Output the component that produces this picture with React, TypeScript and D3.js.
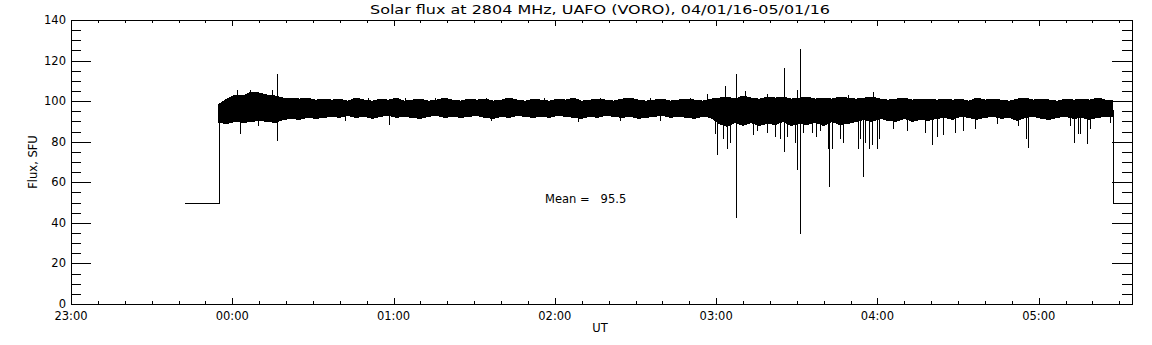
import React from 'react';
import * as d3 from 'd3';

const W = 1152;
const H = 345;

// time is minutes after 23:00 UT
const hourTicks = [0, 60, 120, 180, 240, 300, 360];
const hourLabels = ['23:00', '00:00', '01:00', '02:00', '03:00', '04:00', '05:00'];
const fluxTicks = [0, 20, 40, 60, 80, 100, 120, 140];

// flat 50 SFU segments before and after the observation
const preT = [42, 55];
const preV = [50, 50];
const postT = [387.6, 394.7];
const postV = [50, 50];

// 3-minute envelope of the dense record (min / max per bin)
const binT = [
  55, 58, 61, 64, 67, 70, 73, 76, 79, 82,
  85, 88, 91, 94, 97, 100, 103, 106, 109, 112,
  115, 118, 121, 124, 127, 130, 133, 136, 139, 142,
  145, 148, 151, 154, 157, 160, 163, 166, 169, 172,
  175, 178, 181, 184, 187, 190, 193, 196, 199, 202,
  205, 208, 211, 214, 217, 220, 223, 226, 229, 232,
  235, 238, 241, 244, 247, 250, 253, 256, 259, 262,
  265, 268, 271, 274, 277, 280, 283, 286, 289, 292,
  295, 298, 301, 304, 307, 310, 313, 316, 319, 322,
  325, 328, 331, 334, 337, 340, 343, 346, 349, 352,
  355, 358, 361, 364, 367, 370, 373, 376, 379, 382,
  385,
];
const binHi = [
  98.5, 101, 103, 102.5, 104.5, 104, 103, 102.5, 101.5, 101.5, 101, 101.5, 100.5, 101,
  100.5, 101, 100, 101.5, 100.5, 100, 101, 100.5,
  101.5, 100, 100.5, 101, 100, 100.5, 101.5, 100.5,
  100, 101, 100.5, 101, 100, 100.5, 101.5, 100.5,
  100, 101, 100.5, 100, 101, 100.5, 101.5, 100,
  100.5, 101, 100.5, 100, 101, 101.5, 100.5, 100,
  100.5, 101, 100, 100.5, 101, 100.5, 100, 101,
  101.5, 102, 101, 102.5, 101.5, 101, 102, 101.5, 102, 101, 101.5, 102, 101, 101.5, 101, 102, 101.5,
  101, 101.5, 102, 101, 100.5, 101, 101.5, 100.5, 101, 101,
  100.5, 101, 100.5, 101, 100, 101.5, 100.5, 101, 100.5, 100, 101,
  101.5, 100.5, 101, 100.5, 100, 101, 100.5, 101, 100.5, 101.5, 100.5,
];
const binLo = [
  89.5, 89, 90, 89.5, 90, 90.5, 90, 89.5, 91, 91.5, 91, 92, 91.5, 92,
  92.5, 92, 93, 92, 92.5, 91.5, 92.5, 93,
  92, 92.5, 92, 91.5, 92.5, 93, 92, 92.5,
  92, 92.5, 93, 92, 91.5, 92.5, 92, 93,
  92.5, 92, 92.5, 92, 93, 92.5, 92, 91.5,
  92.5, 92, 93, 92.5, 92, 92.5, 91.5, 92,
  92.5, 93, 92, 92.5, 92, 91.5, 92.5, 92,
  89, 87.5, 89.5, 88, 89.5, 88, 89, 88.5, 90, 88, 89, 88.5, 89.5, 88, 90, 88.5, 89,
  90, 91, 90, 91.5, 90.5, 90, 91.5, 90, 91, 90.5,
  91.5, 92, 91, 92.5, 92, 91, 92, 92.5, 91.5, 92, 90.5,
  92, 92.5, 91.5, 91, 92, 92.5, 91.5, 92, 91, 92, 92.5,
];

// individual excursions outside the envelope
const spikeT = [
  61.8, 66.6, 74.8, 76.6, 62.9, 76.6, 69.6,
  110.5, 124.2, 135.4, 154.4, 163.3, 176, 196.8, 215.4, 230.3,
  102, 118.3, 156.2, 188.6, 204.2, 219,
  236.6, 239.6, 240.3, 242.5, 243.3, 244, 245, 247.2, 247.2, 247.5,
  250.7, 253.7, 255.2, 258.9, 258.9, 261.9, 263.7, 265.2, 265.2, 266.4,
  269.3, 270, 270, 271.3, 271.3, 272.3, 275.7, 277.1, 278.6, 281.6,
  282, 283, 286, 287.2, 289, 292.8, 293.5, 294.6, 295.4, 296.9,
  297.9, 298.3, 299.8, 300.6, 305.8, 311, 317.7, 320.3, 322.2, 324.4,
  328.8, 331.8, 336.3, 344.5, 352.3, 355, 355.3, 356, 371.6, 373.1,
  374.6, 375.3, 378, 379, 386.5,
];
const spikeV = [
  106, 106, 106, 114, 84.5, 81, 88,
  102, 102, 102.2, 102, 101.8, 102, 101.8, 102, 102,
  90.5, 88.7, 90.5, 90.3, 90.8, 90.5,
  104, 84.5, 74, 82, 108, 77, 80, 114, 43, 76.5,
  105.5, 84, 86, 104, 85, 83, 82, 117, 75.5, 83,
  80, 106, 66.5, 126, 35, 85, 85, 83, 86, 77,
  58, 77, 82, 80, 103.5, 77, 82, 63, 80, 77,
  79, 105, 77, 82, 87, 86, 85, 79, 83, 84,
  85, 86, 87, 89, 88, 101.5, 82, 77.5, 88, 80,
  84.5, 84.5, 79.5, 87, 89.5,
];
const bandMid = 96;
const meanFlux = 95.5;

const left = 71;
const right = 1132;
const top = 20;
const bottom = 304;

const font = { fontFamily: '"DejaVu Sans", sans-serif', fontSize: 11.5, fill: '#000' };

export default function App() {
  const x = d3.scaleLinear().domain([0, 394.7]).range([left, right]);
  const y = d3.scaleLinear().domain([0, 140]).range([bottom, top]);
  const px = (v: number) => Math.round(x(v)) + 0.5;
  const py = (v: number) => Math.round(y(v)) + 0.5;

  const bins = binT.map((t, i) => ({ t, hi: binHi[i], lo: binLo[i] }));
  bins.push({ t: postT[0], hi: binHi[binHi.length - 1], lo: binLo[binLo.length - 1] });
  const area = d3.area<{ t: number; hi: number; lo: number }>()
    .x(d => x(d.t))
    .y0(d => y(d.lo))
    .y1(d => y(d.hi))
    .curve(d3.curveLinear);

  const line = d3.line<[number, number]>().x(d => px(d[0])).y(d => py(d[1]));
  const pre: [number, number][] = [[preT[0], preV[0]], [preT[1], preV[1]], [preT[1], bandMid]];
  const post: [number, number][] = [[postT[0], bandMid], [postT[0], postV[0]], [postT[1], postV[1]]];

  const minorX = d3.range(0, 395, 10);
  const minorY = d3.range(0, 141, 5);

  return (
    <svg width={W} height={H} style={{ position: 'absolute', left: 0, top: 0, background: '#fff' }}>
      <rect width={W} height={H} fill="#fff" />
      <text x={600} y={14} textAnchor="middle" textLength={460} lengthAdjust="spacingAndGlyphs" {...font} fontSize={12.5}>
        Solar flux at 2804 MHz, UAFO (VORO),  04/01/16-05/01/16
      </text>

      <g shapeRendering="crispEdges" stroke="#000" strokeWidth={1}>
        <path d={area(bins) || ''} fill="#000" stroke="#000" />
        {spikeT.map((t, i) => (
          <line key={i} x1={px(t)} x2={px(t)} y1={py(bandMid)} y2={py(spikeV[i])} />
        ))}
        <path d={line(pre) || ''} fill="none" />
        <path d={line(post) || ''} fill="none" />

        <rect x={left + 0.5} y={top + 0.5} width={right - left} height={bottom - top} fill="none" />

        {minorY.map(v => {
          const len = v % 20 === 0 ? 20 : 10;
          return (
            <g key={'y' + v}>
              <line x1={left} x2={left + len} y1={py(v)} y2={py(v)} />
              <line x1={right} x2={right - len} y1={py(v)} y2={py(v)} />
            </g>
          );
        })}
        {minorX.map(t => {
          const len = t % 60 === 0 ? 6 : 3;
          return (
            <g key={'x' + t}>
              <line x1={px(t)} x2={px(t)} y1={bottom} y2={bottom - len} />
              <line x1={px(t)} x2={px(t)} y1={top} y2={top + len} />
            </g>
          );
        })}
      </g>

      {fluxTicks.map(v => (
        <text key={v} x={66} y={y(v) + 4} textAnchor="end" {...font}>{v}</text>
      ))}
      {hourTicks.map((t, i) => (
        <text key={t} x={x(t)} y={320} textAnchor="middle" {...font}>{hourLabels[i]}</text>
      ))}
      <text x={600} y={332} textAnchor="middle" {...font}>UT</text>
      <text transform="translate(37,162) rotate(-90)" textAnchor="middle" {...font}>Flux, SFU</text>
      <text x={545} y={203} {...font} xmlSpace="preserve">Mean =   {meanFlux.toFixed(1)}</text>
    </svg>
  );
}
